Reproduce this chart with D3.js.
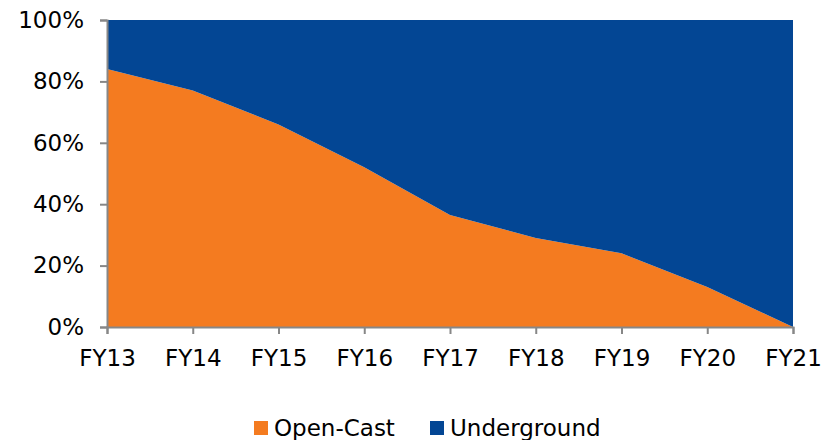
<!DOCTYPE html>
<html>
<head>
<meta charset="utf-8">
<script src="https://cdn.jsdelivr.net/npm/d3@7"></script>
<style>
  body { margin: 0; background: #fff; }
  svg { display: block; font-family: Verdana, "DejaVu Sans", sans-serif; }
</style>
</head>
<body>
<div id="chart"></div>
<script>
  const years = ['FY13', 'FY14', 'FY15', 'FY16', 'FY17', 'FY18', 'FY19', 'FY20', 'FY21'];
  const openCast = [84, 77, 66, 52, 36.5, 29, 24, 13, 0];
  const yTicks = [0, 20, 40, 60, 80, 100];
  const seriesNames = ['Open-Cast', 'Underground'];
  const colors = ['#f47b20', '#034694'];

  const width = 823;
  const height = 440;
  const margin = { left: 107, right: 30, top: 20, bottom: 113 };
  const fontSize = '23px';

  const svg = d3.select('#chart')
    .append('svg')
    .attr('width', width)
    .attr('height', height);

  const x = d3.scalePoint()
    .domain(years)
    .range([margin.left, width - margin.right]);

  const y = d3.scaleLinear()
    .domain([0, 100])
    .range([height - margin.bottom, margin.top]);

  const rows = years.map((yr, i) => ({ year: yr, open: openCast[i], under: 100 - openCast[i] }));

  const stack = d3.stack().keys(['open', 'under']);
  const layers = stack(rows);

  const area = d3.area()
    .x(d => x(d.data.year))
    .y0(d => y(d[0]))
    .y1(d => y(d[1]));

  svg.selectAll('.layer')
    .data(layers)
    .enter()
    .append('path')
    .attr('class', 'layer')
    .attr('d', area)
    .attr('fill', (d, i) => colors[i]);

  // axes
  const yAxis = svg.append('g')
    .attr('transform', `translate(${margin.left},0)`)
    .call(d3.axisLeft(y).tickValues(yTicks).tickFormat(d => d + '%').tickSize(7).tickPadding(16));

  const xAxis = svg.append('g')
    .attr('transform', `translate(0,${height - margin.bottom})`)
    .call(d3.axisBottom(x).tickSize(7).tickPadding(16));

  [xAxis, yAxis].forEach(ax => {
    ax.select('.domain').attr('stroke', '#878787').attr('stroke-width', 2);
    ax.selectAll('.tick line').attr('stroke', '#878787').attr('stroke-width', 2);
    ax.selectAll('.tick text')
      .attr('fill', '#000')
      .style('font-size', fontSize)
      .style('font-family', 'Verdana, "DejaVu Sans", sans-serif');
  });

  // legend
  const legend = svg.append('g');
  const legendX = [254, 430];
  seriesNames.forEach((name, i) => {
    legend.append('rect')
      .attr('x', legendX[i])
      .attr('y', 421)
      .attr('width', 14)
      .attr('height', 14)
      .attr('fill', colors[i]);
    legend.append('text')
      .attr('x', legendX[i] + 20)
      .attr('y', 436)
      .attr('fill', '#000')
      .style('font-size', fontSize)
      .text(name);
  });
</script>
</body>
</html>
